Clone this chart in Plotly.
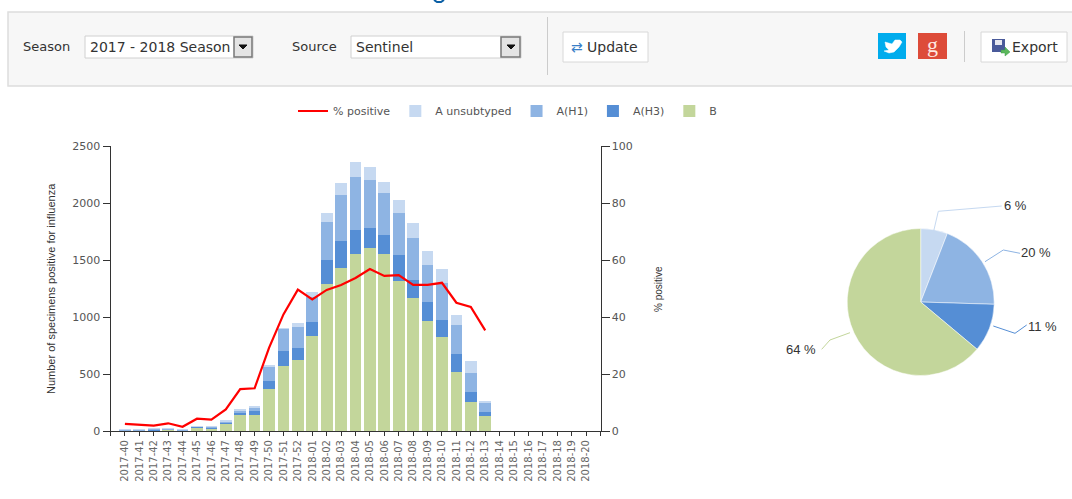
import plotly.graph_objects as go

W, H = 1072, 499

weeks = [f"2017-{w}" for w in range(40, 53)] + [f"2018-{w:02d}" for w in range(1, 21)]
b_values = [5, 3, 5, 15, 3, 32, 25, 58, 143, 140, 365, 567, 620, 830, 1292, 1427, 1553, 1608, 1553, 1319, 1164, 965, 822, 520, 257, 132]
h3_values = [3, 3, 5, 2, 3, 4, 10, 18, 17, 38, 76, 135, 111, 126, 208, 237, 210, 173, 163, 225, 163, 164, 152, 158, 82, 38]
h1_values = [5, 6, 8, 2, 5, 3, 3, 9, 24, 27, 129, 196, 181, 219, 336, 406, 462, 418, 372, 371, 363, 324, 327, 252, 173, 78]
a_values = [2, 3, 2, 1, 4, 1, 2, 3, 12, 8, 6, 2, 35, 41, 73, 108, 135, 114, 99, 108, 137, 129, 117, 90, 99, 9]
pct_positive = [2.5, 2.1, 1.9, 2.7, 1.5, 4.3, 4.0, 7.6, 14.7, 15.0, 29.2, 40.9, 49.6, 46.2, 49.5, 51.2, 53.7, 56.8, 54.4, 54.7, 51.3, 51.3, 52.0, 45.0, 43.5, 35.3]
pie_labels = ["A unsubtyped", "A(H1)", "A(H3)", "B"]
pie_values = [5.9, 19.6, 10.6, 63.9]
pie_texts = ["6 %", "20 %", "11 %", "64 %"]

C_A, C_H1, C_H3, C_B = "#C6D9F1", "#8EB4E3", "#558ED5", "#C3D69B"
SANS = "DejaVu Sans"
ARIAL = "Liberation Sans"


def px(x):
    return x / W


def py(y):
    return 1 - y / H


idx = list(range(len(weeks)))
fig = go.Figure()
for name, vals, col in [("B", b_values, C_B), ("A(H3)", h3_values, C_H3),
                        ("A(H1)", h1_values, C_H1), ("A unsubtyped", a_values, C_A)]:
    fig.add_trace(go.Bar(x=idx[:len(vals)], y=vals, name=name, marker_color=col,
                         marker_line_width=0, hovertext=weeks))
fig.add_trace(go.Scatter(x=idx[:len(pct_positive)], y=pct_positive, name="% positive", yaxis="y2",
                         mode="lines", line=dict(color="#FF0000", width=2.2)))
fig.add_trace(go.Pie(labels=pie_labels, values=pie_values, sort=False, direction="clockwise", rotation=0,
                     marker=dict(colors=[C_A, C_H1, C_H3, C_B], line=dict(color="white", width=0.5)),
                     textinfo="none", showlegend=False,
                     domain=dict(x=[px(847.2), px(994.2)], y=[py(375.5), py(228.5)])))

shapes, notes = [], []


def rect(x0, y0, x1, y1, fill, line=None, lw=1):
    shapes.append(dict(type="rect", xref="paper", yref="paper", layer="below",
                       x0=px(x0), x1=px(x1), y0=py(y0), y1=py(y1), fillcolor=fill,
                       line=dict(color=line or fill, width=lw if line else 0)))


def poly(points, color, width=1, fill=None):
    d = "M" + " L".join(f"{px(x):.5f},{py(y):.5f}" for x, y in points)
    if fill:
        d += " Z"
    shapes.append(dict(type="path", xref="paper", yref="paper", path=d,
                       fillcolor=fill or "rgba(0,0,0,0)", line=dict(color=color, width=width)))


def text(x, y, s, size=12, color="#333", family=SANS, anchor="left", angle=0):
    notes.append(dict(x=px(x), y=py(y), xref="paper", yref="paper", text=s, showarrow=False,
                      xanchor=anchor, yanchor="middle", textangle=angle,
                      font=dict(size=size, color=color, family=family)))


# toolbar panel
rect(8, 12, 1080, 86, "#F7F7F7", "#DDDDDD", 1.5)
text(21, 46.5, "Season", 13, "#333")
rect(85, 36, 253, 58, "#FFFFFF", "#D0D0D0")
text(88, 47, "2017 - 2018 Season", 14, "#333")
rect(234, 37, 252, 57, "#E4E4E4", "#777777", 1.5)
poly([(239, 45), (247, 45), (243, 49)], "#111", 1, "#111")
text(290, 46.5, "Source", 13, "#333")
rect(351, 36, 521, 58, "#FFFFFF", "#D0D0D0")
text(354, 47, "Sentinel", 14, "#333")
rect(501, 37, 520, 57, "#E4E4E4", "#777777", 1.5)
poly([(507, 45), (515, 45), (511, 49)], "#111", 1, "#111")
rect(547, 17, 548, 75, "#CCCCCC")
rect(563, 32, 648, 62, "#FFFFFF", "#D8D8D8")
text(577, 47, "⇄", 14, "#3A7FC8", anchor="center")
text(585, 47, "Update", 14, "#333")
rect(878, 33, 906, 59, "#00ACED")
poly([(884, 51), (889, 50), (886, 47), (885, 42), (892, 44), (895, 40), (900, 40), (902, 42), (899, 47),
      (894, 52), (889, 53)], "#FFFFFF", 0.5, "#FFFFFF")
rect(918, 33, 947, 59, "#DD4B39")
text(932, 45, "g", 22, "#FFE8E0", "Liberation Serif", "center")
rect(964, 31, 965, 62, "#CCCCCC")
rect(981, 32, 1067, 62, "#FFFFFF", "#D8D8D8")
rect(992, 39, 1005, 52, "#4A5A9A")
rect(995, 40, 1002, 45, "#E8E8F0")
poly([(1001, 50), (1005, 50), (1005, 47), (1010, 52), (1005, 56), (1005, 53), (1001, 53)], "#3F9E4D", 0.5, "#5CB85C")
text(1010, 47, "Export", 14, "#333")
# sliver of the page heading cut off by the screenshot's top edge
poly([(434, 0), (437, 2), (441, 2), (444, 0)], "#0B5FA5", 2)

# pie labels and leaders
poly([(933.3, 232.7), (938.3, 211.3), (1001.7, 206)], C_A)
poly([(985, 261.7), (1003.3, 250), (1020, 253.3)], C_H1)
poly([(993.3, 326), (1015, 333.3), (1026.7, 325)], C_H3)
poly([(850, 332.7), (830, 340), (821.7, 349.3)], C_B)
for (x, y), s in zip([(1015, 205.5), (1036, 253), (1042, 326), (801, 349)], pie_texts):
    text(x, y, s, 13, "#333", ARIAL, "center")

# axis titles
text(51, 289, "Number of specimens positive for influenza", 11, "#333", ARIAL, "center", -90)
text(658, 289, "% positive", 10, "#333", ARIAL, "center", -90)

ticks = list(range(-1, len(weeks) + 1))
fig.update_layout(
    width=W, height=H, autosize=False, margin=dict(l=0, r=0, t=0, b=0, autoexpand=False),
    paper_bgcolor="white", plot_bgcolor="rgba(0,0,0,0)",
    barmode="stack", bargap=0.19, shapes=shapes, annotations=notes,
    font=dict(family=SANS, color="#666"),
    xaxis=dict(domain=[px(110.5), px(600.5)], range=[-1, len(weeks)], tickmode="array", tickvals=ticks,
               ticktext=[""] + weeks + [""], tickangle=-90, ticks="outside", ticklen=4, tickcolor="#333",
               showline=True, linecolor="#333", showgrid=False, zeroline=False,
               tickfont=dict(size=10, color="#666")),
    yaxis=dict(domain=[py(431), py(146)], range=[0, 2500], dtick=500, ticks="outside", ticklen=7,
               tickcolor="#333", showline=True, linecolor="#333", showgrid=False, zeroline=False,
               tickfont=dict(size=11, color="#555")),
    yaxis2=dict(overlaying="y", side="right", anchor="x", range=[0, 100], dtick=20, ticks="outside",
                ticklen=8, tickcolor="#333", showline=True, linecolor="#333", showgrid=False, zeroline=False,
                tickfont=dict(size=11, color="#555")),
    legend=dict(orientation="h", x=px(293), y=py(111), xanchor="left", yanchor="middle",
                traceorder="reversed", font=dict(size=11, color="#555"), bgcolor="rgba(0,0,0,0)",
                itemwidth=30),
)
fig.write_html("out.html", config=dict(displayModeBar=False), post_script="document.body.style.margin='0';")
